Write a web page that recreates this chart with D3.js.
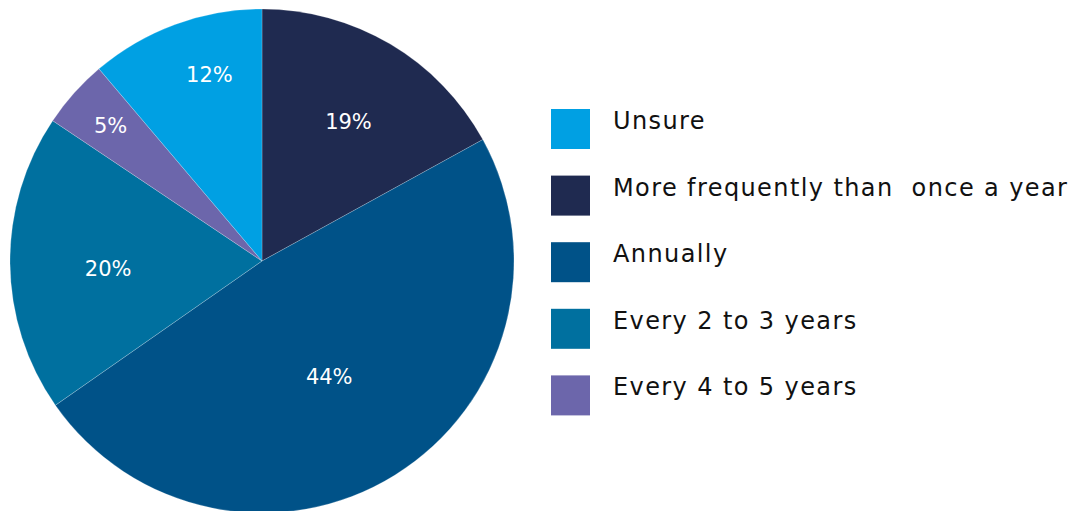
<!DOCTYPE html>
<html>
<head>
<meta charset="utf-8">
<script src="https://cdn.jsdelivr.net/npm/d3@7"></script>
<style>
  body { margin: 0; background: #fff; }
  text { font-family: "DejaVu Sans", sans-serif; white-space: pre; }
</style>
</head>
<body>
<div id="chart"></div>
<script>
// datos (orden de las porciones, empezando arriba y en sentido horario)
const categories = ["More frequently than  once a year", "Annually", "Every 2 to 3 years", "Every 4 to 5 years", "Unsure"]
const shares = [17.0, 48.3, 19.1, 4.4, 11.2]   // tamaño de cada porción medido en la imagen
const pctLabels = ["19%", "44%", "20%", "5%", "12%"]
const colors = ["#1f2a50", "#005288", "#00709f", "#6c66ab", "#00a0e3"]
const legendOrder = ["Unsure", "More frequently than  once a year", "Annually", "Every 2 to 3 years", "Every 4 to 5 years"]

// constantes
const width = 1083
const height = 511
const radius = 252
const cx = 262, cy = 261
// posición de las etiquetas: distancia al centro y fracción del ángulo de la porción
const labelRadius = [164, 134, 154, 203, 194]
const labelFrac = [0.52, 0.51, 0.47, 0.5, 0.61]

const svg = d3.select("#chart").append("svg").attr("width", width).attr("height", height)
const pieGroup = svg.append("g").attr("id", "pieGroup").attr("transform", `translate(${cx}, ${cy})`)
const legendGroup = svg.append("g").attr("id", "legendGroup").attr("transform", `translate(551, 109)`)

const color = d3.scaleOrdinal().domain(categories).range(colors)

const pie = d3.pie().sort(null).value(d => d.value)
const arc = d3.arc().innerRadius(0).outerRadius(radius)

const data = categories.map((c, i) => ({name: c, value: shares[i], label: pctLabels[i], lr: labelRadius[i], lf: labelFrac[i]}))
const arcs = pie(data)

pieGroup.selectAll("path").data(arcs)
    .join("path")
        .attr("d", arc)
        .attr("fill", d => color(d.data.name))
        .attr("stroke", "rgba(255,255,255,0.35)")
        .attr("stroke-width", 0.6)

pieGroup.selectAll("text").data(arcs)
    .join("text")
        .attr("transform", d => {
            const a = d.startAngle + (d.endAngle - d.startAngle) * d.data.lf
            return `translate(${Math.sin(a) * d.data.lr}, ${-Math.cos(a) * d.data.lr})`
        })
        .attr("text-anchor", "middle")
        .attr("dy", "0.36em")
        .attr("fill", "#fff")
        .attr("font-size", 21)
        .text(d => d.data.label)

// leyenda
const y = d3.scaleBand().domain(legendOrder).range([0, 333]).paddingInner(0)

const items = legendGroup.selectAll("g").data(legendOrder)
    .join("g")
        .attr("transform", d => `translate(0, ${y(d)})`)

items.append("rect")
    .attr("width", 39)
    .attr("height", 40)
    .attr("fill", d => color(d))

items.append("text")
    .attr("x", 62)
    .attr("y", 20)
    .attr("font-size", 24)
    .attr("letter-spacing", 1.4)
    .attr("fill", "#111")
    .text(d => d)
</script>
</body>
</html>
